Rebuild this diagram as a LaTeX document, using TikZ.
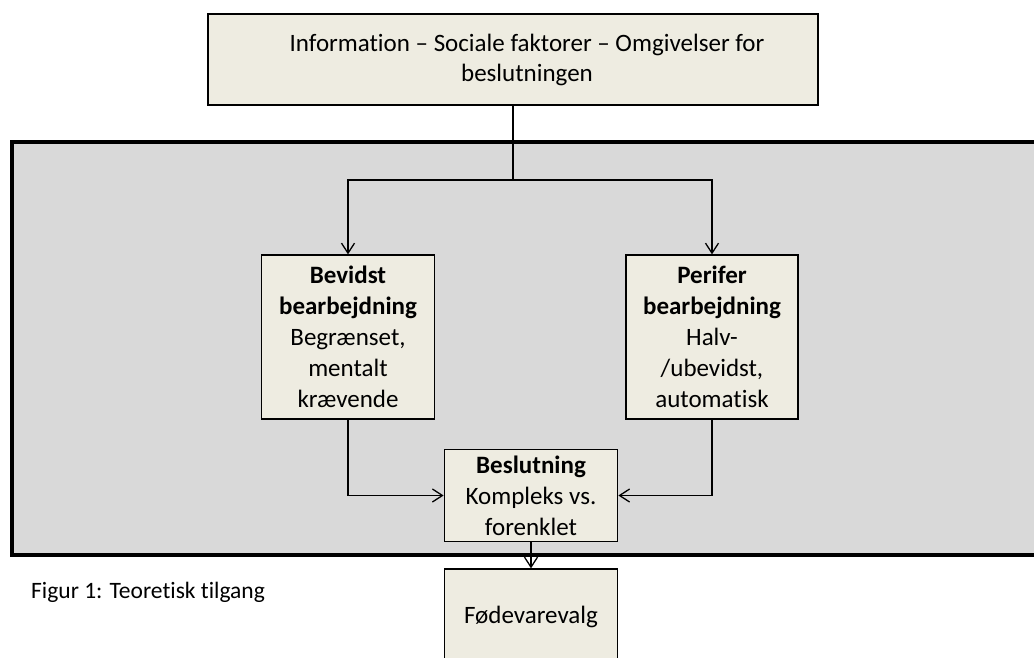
\documentclass[tikz,border=0pt]{standalone}
\usepackage{fontspec}
\setmainfont{Carlito}[Ligatures={NoCommon,NoContextual}]
\usetikzlibrary{arrows.meta}
\definecolor{boxfill}{HTML}{EEECE1}
\definecolor{panel}{HTML}{D9D9D9}
\begin{document}
\begin{tikzpicture}[x=1pt,y=-1pt,
  box/.style={draw=black, line width=1.3pt, fill=boxfill, inner sep=0pt, align=center,
    font=\fontsize{25pt}{31pt}\selectfont},
  conn/.style={line width=1.3pt},
  arr/.style={conn, -{Straight Barb[length=10pt,width=13pt,line width=1.3pt]}},
  caption/.style={font=\fontsize{23.5pt}{28pt}\selectfont, inner sep=0pt, anchor=west}]
\useasboundingbox (0,0) rectangle (1034,658);
\fill[white] (0,0) rectangle (1034,658);
% gray panel
\draw[line width=3.5pt, fill=panel] (12,142) rectangle (1060,555);
% nodes
\node[box, minimum width=610pt, minimum height=91pt] (top) at (513,59.5) {};
\node[font=\fontsize{25pt}{29.5pt}\selectfont, align=center, inner sep=0pt] (toptext) at (527,60)
  {Information – Sociale faktorer – Omgivelser for\\beslutningen};
\node[box, minimum width=173pt, minimum height=164pt] (left) at (348,337)
  {\textbf{Bevidst}\\\textbf{bearbejdning}\\Begrænset,\\mentalt\\krævende};
\node[box, minimum width=172pt, minimum height=164pt] (right) at (712,337)
  {\textbf{Perifer}\\\textbf{bearbejdning}\\Halv-\\/ubevidst,\\automatisk};
\node[box, minimum width=173.5pt, minimum height=92.5pt] (besl) at (531,495.5)
  {\textbf{Beslutning}\\Kompleks vs.\\forenklet};
\node[box, minimum width=173.5pt, minimum height=96pt] (food) at (531,617)
  {Fødevarevalg};
\coordinate (split) at (513,180);
% connectors
\draw[conn] (top.south) -- (split);
\draw[arr] (split) -| (left.north);
\draw[arr] (split) -| (right.north);
\draw[arr] (left.south) |- (besl.west);
\draw[arr] (right.south) |- (besl.east);
\draw[arr] (besl.south) -- (food.north);
% caption
\node[caption] (cap) at (31,592) {Figur 1: Teoretisk tilgang};
\end{tikzpicture}
\end{document}
